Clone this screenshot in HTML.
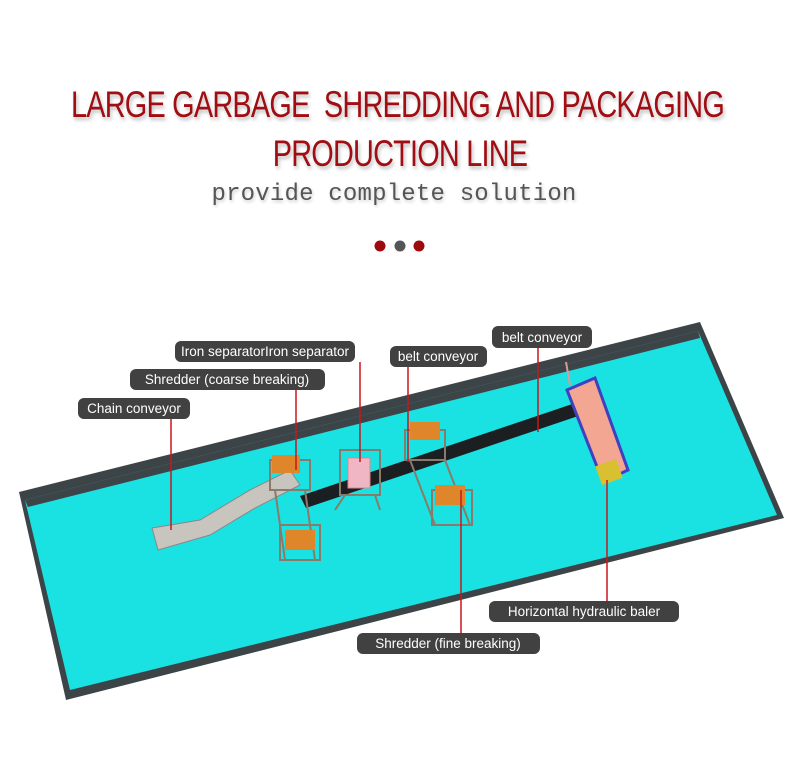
<!DOCTYPE html>
<html><head><style>
html,body{margin:0;padding:0;background:#fff;width:800px;height:780px;overflow:hidden}
.t{position:absolute;left:0;width:800px;text-align:center;white-space:nowrap;font-family:"Liberation Sans Narrow","Liberation Sans",sans-serif;color:#a00d12;font-size:37px;transform:scaleX(0.78);letter-spacing:-1px;text-shadow:2px 3px 4px rgba(0,0,0,.25)}
.s{position:absolute;left:0;width:800px;text-align:center;white-space:nowrap;font-family:"Liberation Mono",monospace;color:#555;font-size:24px;letter-spacing:0.2px;text-shadow:1px 2px 3px rgba(0,0,0,.2)}
</style></head><body>
<div class="t" style="top:84px;left:-17px">LARGE GARBAGE&nbsp; SHREDDING AND PACKAGING</div>
<div class="t" style="top:133px">PRODUCTION LINE</div>
<div class="s" style="top:181px;left:-6px">provide complete solution</div>
<svg width="800" height="780" style="position:absolute;left:0;top:0">
<circle cx="380" cy="246" r="5.5" fill="#9e0b0f"/><circle cx="400" cy="246" r="5.5" fill="#555"/><circle cx="419" cy="246" r="5.5" fill="#9e0b0f"/>
<polygon points="19,492 700,322 784,518 66,700" fill="#3d4448"/>
<polygon points="25,500 698,331 777,515 70,690" fill="#1be2e2"/>
<polygon points="25,500 698,331 700,338 28,507" fill="#3d4448"/>
<polygon points="300,496 590,398 596,410 306,508" fill="#1c1f22"/>
<polygon points="152,528 200,520 250,490 290,470 300,485 255,508 210,535 158,550" fill="#c8c4be" stroke="#888"/>
<g fill="none" stroke="#8a7a6a" stroke-width="2">
<rect x="270" y="460" width="40" height="30"/><rect x="280" y="525" width="40" height="35"/><line x1="275" y1="490" x2="285" y2="560"/><line x1="305" y1="490" x2="315" y2="560"/>
<rect x="405" y="430" width="40" height="30"/><rect x="432" y="490" width="40" height="35"/><line x1="410" y1="460" x2="435" y2="525"/><line x1="445" y1="460" x2="470" y2="525"/>
<rect x="340" y="450" width="40" height="45"/><line x1="345" y1="495" x2="335" y2="510"/><line x1="375" y1="495" x2="380" y2="510"/>
</g>
<rect x="272" y="455" width="28" height="18" fill="#e0862a"/><rect x="285" y="530" width="30" height="20" fill="#e0862a"/>
<rect x="410" y="422" width="30" height="18" fill="#e0862a"/><rect x="435" y="485" width="30" height="20" fill="#e0862a"/>
<rect x="348" y="458" width="22" height="30" fill="#f0b6c4" stroke="#d88"/>
<polygon points="567,390 595,378 628,470 603,482" fill="#f3a792" stroke="#4040c0" stroke-width="3"/>
<rect x="598" y="462" width="22" height="20" fill="#d9c030" transform="rotate(-20 609 472)"/>
<line x1="570" y1="385" x2="566" y2="362" stroke="#d99" stroke-width="2"/>
<g stroke="#c8161e" stroke-width="1.5">
<line x1="171" y1="419" x2="171" y2="530"/><line x1="296" y1="390" x2="296" y2="470"/>
<line x1="360" y1="362" x2="360" y2="462"/><line x1="408" y1="367" x2="408" y2="462"/>
<line x1="538" y1="348" x2="538" y2="432"/><line x1="461" y1="490" x2="461" y2="633"/>
<line x1="607" y1="480" x2="607" y2="601"/></g>
<g fill="#414141"><rect x="492" y="326" width="100" height="22" rx="6"/><rect x="175" y="341" width="180" height="21" rx="6"/>
<rect x="390" y="346" width="97" height="21" rx="6"/><rect x="130" y="369" width="195" height="21" rx="6"/>
<rect x="78" y="398" width="112" height="21" rx="6"/><rect x="489" y="601" width="190" height="21" rx="6"/>
<rect x="357" y="633" width="183" height="21" rx="6"/></g>
<g fill="#fff" font-family="Liberation Sans,sans-serif" font-size="13.5" text-anchor="middle">
<text x="542" y="342">belt conveyor</text><text x="265" y="356">Iron separatorIron separator</text>
<text x="438" y="361">belt conveyor</text><text x="227" y="384">Shredder (coarse breaking)</text>
<text x="134" y="413">Chain conveyor</text><text x="584" y="616">Horizontal hydraulic baler</text>
<text x="448" y="648">Shredder (fine breaking)</text></g>
</svg>
</body></html>
